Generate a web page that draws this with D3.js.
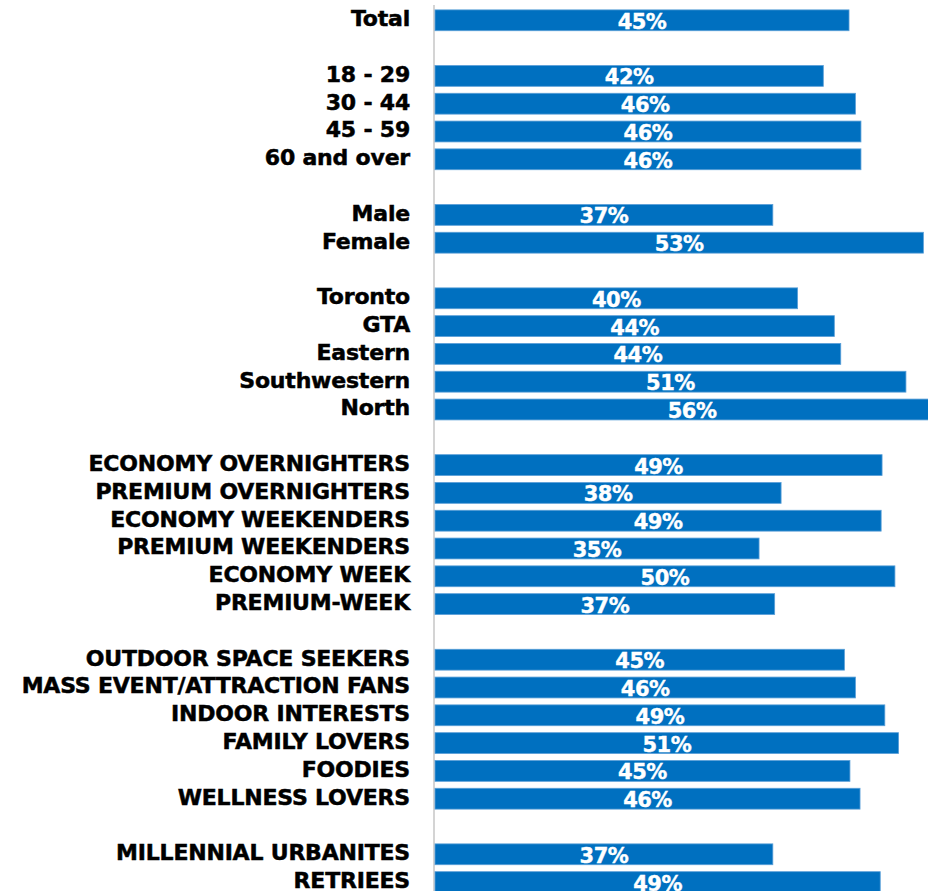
<!DOCTYPE html>
<html>
<head>
<meta charset="utf-8">
<script src="https://cdn.jsdelivr.net/npm/d3@7"></script>
<style>
  html, body { margin: 0; padding: 0; background: #fff; overflow: hidden; }
  svg { display: block; }
</style>
</head>
<body>
<svg id="chart" width="928" height="891"></svg>
<script>
const categories = [
  "Total",
  "18 - 29", "30 - 44", "45 - 59", "60 and over",
  "Male", "Female",
  "Toronto", "GTA ", "Eastern", "Southwestern", "North",
  "ECONOMY OVERNIGHTERS", "PREMIUM OVERNIGHTERS", "ECONOMY WEEKENDERS",
  "PREMIUM WEEKENDERS", "ECONOMY WEEK", "PREMIUM-WEEK",
  "OUTDOOR SPACE SEEKERS", "MASS EVENT/ATTRACTION FANS", "INDOOR INTERESTS",
  "FAMILY LOVERS", "FOODIES", "WELLNESS LOVERS",
  "MILLENNIAL URBANITES", "RETRIEES"
];
const values = [
  45.1,
  42.3, 45.8, 46.4, 46.4,
  36.8, 53.2,
  39.5, 43.5, 44.2, 51.3, 56.0,
  48.7, 37.7, 48.6, 35.3, 50.1, 37.0,
  44.6, 45.8, 49.0, 50.5, 45.2, 46.3,
  36.8, 48.5
];
const groupSizes = [1, 4, 2, 5, 6, 6, 2];

// build slot list with a blank spacer row between groups
const rows = [];
const slots = [];
let idx = 0;
groupSizes.forEach((n, g) => {
  if (g > 0) slots.push("gap" + g);
  for (let i = 0; i < n; i++, idx++) {
    rows.push({ key: "r" + idx, label: categories[idx], value: values[idx] });
    slots.push("r" + idx);
  }
});

const svg = d3.select("#chart");
const x0 = 435;
const x = d3.scaleLinear().domain([0, 56]).range([x0, x0 + 9.18 * 56]);
const y = d3.scaleBand().domain(slots).range([6.4, 6.4 + 27.8 * 32])
  .paddingInner(0.25).paddingOuter(0.125);

// axis line
svg.append("line")
  .attr("x1", x0 - 1).attr("x2", x0 - 1)
  .attr("y1", 5).attr("y2", 891)
  .attr("stroke", "#d4d4d4").attr("stroke-width", 2);

const fontFam = "'DejaVu Sans', sans-serif";

svg.append("g").selectAll("rect").data(rows).join("rect")
  .attr("x", x(0))
  .attr("y", d => y(d.key))
  .attr("width", d => x(d.value) - x(0))
  .attr("height", y.bandwidth())
  .attr("fill", "#0070C0")
  .attr("stroke", "#5a9fd8")
  .attr("stroke-width", 0.8);

svg.append("g").selectAll("text").data(rows).join("text")
  .attr("x", 410)
  .attr("y", d => y(d.key) + y.bandwidth() / 2 - 2)
  .attr("dy", "0.36em")
  .attr("text-anchor", "end")
  .attr("font-family", fontFam)
  .attr("font-weight", "bold")
  .attr("font-size", 22)
  .attr("letter-spacing", -0.2)
  .attr("fill", "#000")
  .attr("stroke", "#000")
  .attr("stroke-width", 0.5)
  .text(d => d.label);

svg.append("g").selectAll("text").data(rows).join("text")
  .attr("x", d => (x(0) + x(d.value)) / 2)
  .attr("y", d => y(d.key) + y.bandwidth() / 2 + 1)
  .attr("dy", "0.36em")
  .attr("text-anchor", "middle")
  .attr("font-family", fontFam)
  .attr("font-weight", "bold")
  .attr("font-size", 21)
  .attr("letter-spacing", -0.5)
  .attr("fill", "#fff")
  .attr("stroke", "#fff")
  .attr("stroke-width", 0.4)
  .text(d => Math.round(d.value) + "%");
</script>
</body>
</html>
